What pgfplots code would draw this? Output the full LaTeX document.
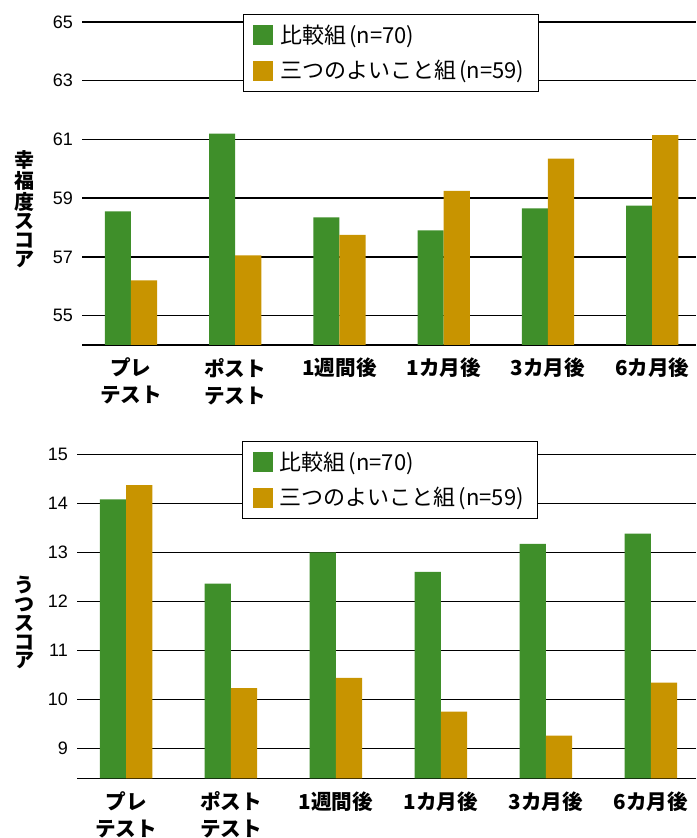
\documentclass[border=0pt]{standalone}
\usepackage{fontspec}
\usepackage{pgfplots}
\pgfplotsset{compat=1.18}
\setmainfont{Noto Sans CJK JP}
\newfontfamily\lib{Liberation Sans}
\definecolor{cgreen}{HTML}{3F8F2A}
\definecolor{corange}{HTML}{C89400}
\pgfplotsset{
  mybars/.style={
    scale only axis,
    ybar=0pt, bar width=0.25,
    axis x line*=bottom, axis y line*=left,
    x axis line style={-, black, line width=0.8pt},
    y axis line style={draw=none},
    major tick length=0pt,
    ymajorgrids, grid style={black, line width=0.7pt},
    xtick={0,...,5},
    xticklabels={{プレ\\テスト},{ポスト\\テスト},1週間後,1カ月後,3カ月後,6カ月後},
    xticklabel style={align=center, anchor=north, yshift=-3pt,
      font=\bfseries\fontsize{10.3}{13.5}\selectfont},
    yticklabel style={font=\lib\fontsize{9}{10}\selectfont, xshift=-1pt},
    /pgf/number format/assume math mode=true,
    legend cell align=left,
    legend image code/.code={\fill[##1] (0pt,-5pt) rectangle (10pt,5pt);},
    legend style={anchor=north west, draw=black, line width=0.6pt, fill=white,
      font=\fontsize{11}{13}\selectfont, row sep=3pt,
      inner xsep=5pt, inner ysep=3pt,
      /tikz/every even column/.append style={column sep=3pt},
      /tikz/every odd column/.append style={column sep=0pt}},
    ylabel style={rotate=-90, align=center, anchor=center,
      font=\bfseries\fontsize{10}{9.4}\selectfont},
  }
}
\begin{document}
\begin{tikzpicture}[x=1pt,y=1pt]
\useasboundingbox (0,0) rectangle (348,419);
\begin{axis}[mybars,
  at={(41pt,246.5pt)}, anchor=south west,
  width=307pt, height=161.5pt,
  xmin=-0.47, xmax=5.42, ymin=54, ymax=65,
  ytick={55,57,59,61,63,65},
  ylabel={幸\\福\\度\\ス\\コ\\ア},
  ylabel style={at={(axis description cs:-0.093,0.42)}},
  legend style={at={(0.262,1.025)}},
]
\addplot[fill=cgreen, draw=none] coordinates {(0,58.55) (1,61.2) (2,58.35) (3,57.9) (4,58.65) (5,58.75)};
\addplot[fill=corange, draw=none] coordinates {(0,56.2) (1,57.05) (2,57.75) (3,59.25) (4,60.35) (5,61.15)};
\legend{\hspace{1.5pt}比較組\hspace{1.5pt}(n=70), \hspace{1.5pt}三つのよいこと組\hspace{1.5pt}(n=59)}
\end{axis}
\begin{axis}[mybars,
  at={(38.5pt,29.85pt)}, anchor=south west,
  width=309.5pt, height=162pt,
  xmin=-0.467, xmax=5.43, ymin=8.39, ymax=15,
  ytick={9,...,15},
  ylabel={う\\つ\\ス\\コ\\ア},
  ylabel style={at={(axis description cs:-0.085,0.48)}},
  legend style={at={(0.267,1.041)}},
]
\addplot[fill=cgreen, draw=none] coordinates {(0,14.08) (1,12.36) (2,13.0) (3,12.6) (4,13.17) (5,13.38)};
\addplot[fill=corange, draw=none] coordinates {(0,14.37) (1,10.23) (2,10.44) (3,9.75) (4,9.26) (5,10.34)};
\legend{\hspace{1.5pt}比較組\hspace{1.5pt}(n=70), \hspace{1.5pt}三つのよいこと組\hspace{1.5pt}(n=59)}
\end{axis}
\end{tikzpicture}
\end{document}
